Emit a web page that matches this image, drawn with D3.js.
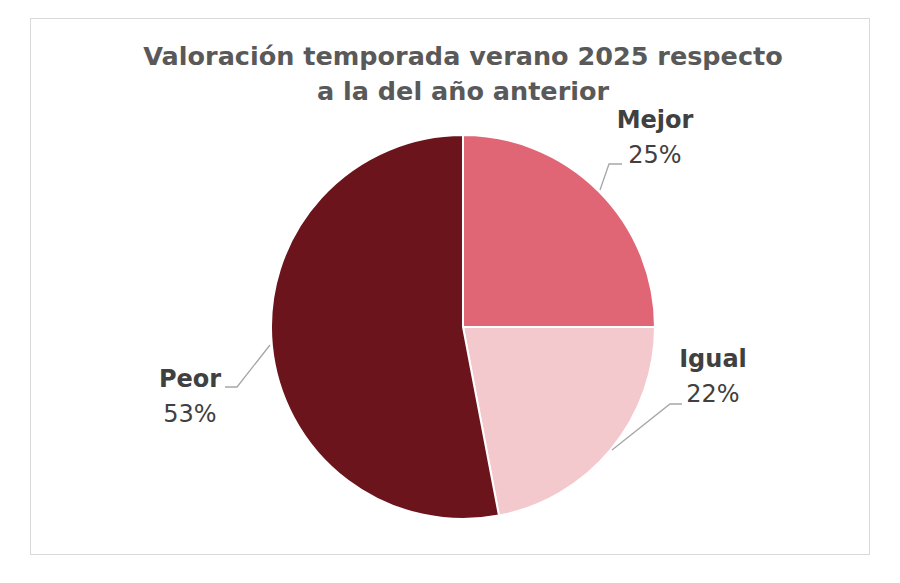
<!DOCTYPE html>
<html><head><meta charset="utf-8">
<script src="https://cdn.jsdelivr.net/npm/d3@7"></script>
<style>body{margin:0;background:#fff}svg{display:block}</style>
</head><body>
<svg id="c" width="900" height="583"></svg>
<script>
const categories = ["Mejor", "Igual", "Peor"];
const values = [25, 22, 53];
const colors = ["#E06676", "#F3C9CE", "#6B141C"];
const titleLines = ["Valoración temporada verano 2025 respecto", "a la del año anterior"];

const svg = d3.select("#c");
const font = "'Century Gothic','DejaVu Sans',sans-serif";
svg.append("rect").attr("x",30.5).attr("y",18.5).attr("width",839).attr("height",536)
  .attr("fill","#fff").attr("stroke","#d9d9d9");

svg.append("g").selectAll("text").data(titleLines).join("text")
  .attr("x",463).attr("y",(d,i)=>65+i*35).attr("text-anchor","middle")
  .attr("font-family",font).attr("font-weight","bold").attr("font-size",25.5)
  .attr("fill","#595959").text(d=>d);

const cx=463, cy=327, r=192;
const data = categories.map((c,i)=>({cat:c,val:values[i],color:colors[i]}));
const pie = d3.pie().value(d=>d.val).sort(null);
const arc = d3.arc().innerRadius(0).outerRadius(r);
const arcs = pie(data);
const g = svg.append("g").attr("transform",`translate(${cx},${cy})`);
g.selectAll("path").data(arcs).join("path").attr("d",arc)
  .attr("fill",d=>d.data.color).attr("stroke","#fff").attr("stroke-width",2);

const labelPos = {
  Mejor:{x:655,y:128},
  Igual:{x:713,y:367},
  Peor:{x:190,y:387}
};
const leaders = {
  Mejor:[[600,190],[609,164],[622,164]],
  Igual:[[612,450],[670,404],[682,404]],
  Peor:[[270,345],[237,387],[225,387]]
};
categories.forEach((c,i)=>{
  svg.append("path").attr("d",d3.line()(leaders[c])).attr("fill","none")
    .attr("stroke","#a6a6a6").attr("stroke-width",1.3);
  const p = labelPos[c];
  const t = svg.append("text").attr("text-anchor","middle").attr("font-family",font).attr("fill","#404040");
  t.append("tspan").attr("x",p.x).attr("y",p.y).attr("font-weight","bold").attr("font-size",24).text(c);
  t.append("tspan").attr("x",p.x).attr("y",p.y+35).attr("font-size",24).text(values[i]+"%");
});
</script>
</body></html>
